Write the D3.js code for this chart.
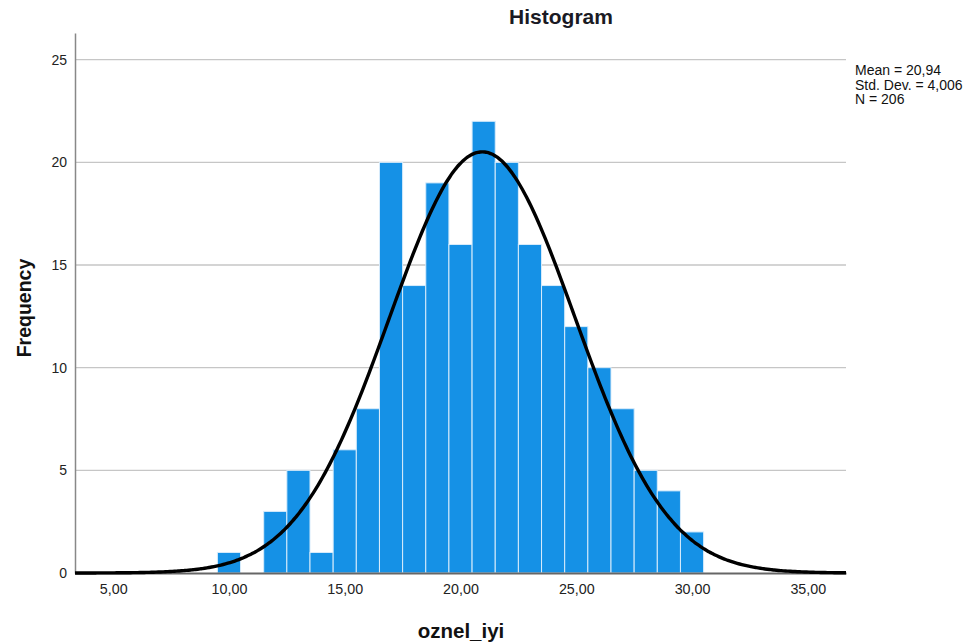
<!DOCTYPE html>
<html>
<head>
<meta charset="utf-8">
<script src="https://cdn.jsdelivr.net/npm/d3@7"></script>
<style>
  body { margin: 0; background: #fff; }
  svg text { font-family: "Liberation Sans", Arial, sans-serif; }
</style>
</head>
<body>
<div id="chart"></div>
<script>
// bin centres (width 1) and their counts
const binCenters = [10, 11, 12, 13, 14, 15, 16, 17, 18, 19, 20, 21, 22, 23, 24, 25, 26, 27, 28, 29, 30];
const counts     = [1, 0, 3, 5, 1, 6, 8, 20, 14, 19, 16, 22, 20, 16, 14, 12, 10, 8, 5, 4, 2];
const xTicks = [5, 10, 15, 20, 25, 30, 35];
const yTicks = [0, 5, 10, 15, 20, 25];
const stats = ["Mean = 20,94", "Std. Dev. = 4,006", "N = 206"];
const mean = 20.94, sd = 4.006, n = 206, binWidth = 1;

const W = 976, H = 643;
const plot = { left: 75, right: 846, top: 33, bottom: 573 };

const svg = d3.select("#chart").append("svg")
  .attr("width", W)
  .attr("height", H);

const x = d3.scaleLinear()
  .domain([3.35, 36.65])
  .range([plot.left, plot.right]);

const y = d3.scaleLinear()
  .domain([0, 26.3])
  .range([plot.bottom, plot.top]);

const fmt = v => d3.format(".2f")(v).replace(".", ",");

// gridlines
svg.append("g")
  .selectAll("line")
  .data(yTicks.filter(d => d > 0))
  .join("line")
  .attr("x1", plot.left)
  .attr("x2", plot.right)
  .attr("y1", d => y(d))
  .attr("y2", d => y(d))
  .attr("stroke", "#c6c6c6")
  .attr("stroke-width", 1.3);

// bars
svg.append("g")
  .selectAll("rect")
  .data(binCenters.map((c, i) => ({ c, v: counts[i] })).filter(d => d.v > 0))
  .join("rect")
  .attr("x", d => x(d.c - binWidth / 2))
  .attr("width", d => x(d.c + binWidth / 2) - x(d.c - binWidth / 2))
  .attr("y", d => y(d.v))
  .attr("height", d => y(0) - y(d.v))
  .attr("fill", "#1591e6")
  .attr("stroke", "#d8ecfb")
  .attr("stroke-width", 1);

// y axis
const yAxis = svg.append("g")
  .attr("transform", `translate(${plot.left},0)`)
  .call(d3.axisLeft(y).tickValues(yTicks).tickSize(0).tickPadding(8));
yAxis.select(".domain").attr("stroke", "#888").attr("stroke-width", 1.5);
yAxis.selectAll("text").attr("font-size", 14).attr("fill", "#222")
  .attr("font-family", "'Liberation Sans', Arial, sans-serif");

// x axis
const xAxis = svg.append("g")
  .attr("transform", `translate(0,${plot.bottom})`)
  .call(d3.axisBottom(x).tickValues(xTicks).tickFormat(fmt).tickSize(0).tickPadding(11));
xAxis.select(".domain").attr("stroke", "#666").attr("stroke-width", 1.8);
xAxis.selectAll("text").attr("font-size", 14.3).attr("fill", "#222")
  .attr("font-family", "'Liberation Sans', Arial, sans-serif");

// normal curve from the reported mean / sd
const curveX = d3.range(3.35, 36.66, 0.1);
const pdf = v => n * binWidth * Math.exp(-0.5 * ((v - mean) / sd) ** 2) / (sd * Math.sqrt(2 * Math.PI));
svg.append("path")
  .datum(curveX)
  .attr("d", d3.line().x(d => x(d)).y(d => y(pdf(d))).curve(d3.curveBasis))
  .attr("fill", "none")
  .attr("stroke", "#000")
  .attr("stroke-width", 3.4);

// titles
svg.append("text")
  .attr("x", 561)
  .attr("y", 24)
  .attr("text-anchor", "middle")
  .attr("font-size", 21)
  .attr("font-weight", "bold")
  .attr("fill", "#1a1a24")
  .text("Histogram");

svg.append("text")
  .attr("transform", `translate(31,308) rotate(-90)`)
  .attr("text-anchor", "middle")
  .attr("font-size", 19.5)
  .attr("font-weight", "bold")
  .attr("fill", "#111")
  .text("Frequency");

svg.append("text")
  .attr("x", 461)
  .attr("y", 638)
  .attr("text-anchor", "middle")
  .attr("font-size", 20.5)
  .attr("font-weight", "bold")
  .attr("fill", "#111")
  .text("oznel_iyi");

// stats box
svg.append("g")
  .selectAll("text")
  .data(stats)
  .join("text")
  .attr("x", 855)
  .attr("y", (d, i) => 75 + i * 14.5)
  .attr("font-size", 14)
  .attr("fill", "#111")
  .text(d => d);
</script>
</body>
</html>
